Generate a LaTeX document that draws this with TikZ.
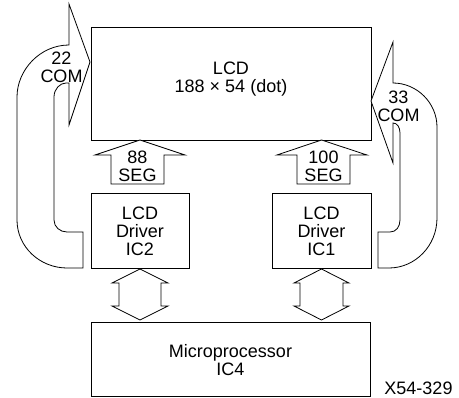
\documentclass[tikz,border=0pt]{standalone}
\usepackage{fontspec}
\setmainfont{Liberation Sans}
\begin{document}
\begin{tikzpicture}[x=1pt,y=-1pt,
  box/.style={draw,line width=0.8pt,inner sep=0pt},
  lbl/.style={align=center,font=\fontsize{18}{18}\selectfont,inner sep=0pt},
  fat/.style={draw,line width=0.8pt,line join=miter,fill=white}]
\useasboundingbox (0,0) rectangle (459,398);
% boxes
\node[box,minimum width=280pt,minimum height=113pt] (lcd) at (231,83.5) {};
\node[box,minimum width=98pt,minimum height=75pt] (ic2) at (140,230.5) {};
\node[box,minimum width=99pt,minimum height=75pt] (ic1) at (321.5,230.5) {};
\node[box,minimum width=279pt,minimum height=74pt] (mp) at (230.5,359) {};
% texts
\node[lbl] (lcdt) at (231,79) {LCD\\188 × 54 (dot)};
\node[lbl] (ic2t) at (140,231) {LCD\\Driver\\IC2};
\node[lbl] (ic1t) at (321.5,231) {LCD\\Driver\\IC1};
\node[lbl] (mpt) at (230.5,360) {Microprocessor\\IC4};
\node[lbl,anchor=base] (code) at (418.5,395) {X54-329};
% SEG arrows
\draw[fat] (140,140) -- (185,155) -- (164,155) -- (164,184) -- (111,184) -- (111,155) -- (95,155) -- cycle;
\draw[fat] (321.5,140) -- (367,155) -- (350,155) -- (350,184) -- (297,184) -- (297,155) -- (277,155) -- cycle;
\node[lbl] (seg88) at (137.5,166) {88\\SEG};
\node[lbl] (seg100) at (323.5,166) {100\\SEG};
% double arrows
\draw[fat] (140,269) -- (168,283) -- (161,283) -- (161,306) -- (168,306) -- (140,320) -- (112,306) -- (119,306) -- (119,283) -- (112,283) -- cycle;
\draw[fat] (321.5,269) -- (349,283) -- (343,283) -- (343,306) -- (349,306) -- (321.5,320) -- (294,306) -- (300,306) -- (300,283) -- (294,283) -- cycle;
% 22 COM arrow
\draw[fat] (90,62) -- (69,4) -- (69,45)
  .. controls (40,45) and (17,70) .. (17,97)
  -- (17,220)
  .. controls (17,247) and (40,268) .. (67,268)
  -- (83,268) -- (83,232) -- (67,232)
  .. controls (60,232) and (54,227) .. (54,220)
  -- (54,97)
  .. controls (54,89) and (60,83) .. (66,83)
  -- (69,83) -- (69,125) -- cycle;
\node[lbl] (com22) at (61.5,67) {22\\COM};
% 33 COM arrow
\draw[fat] (371,101) -- (393,42) -- (393,83)
  .. controls (417,83) and (437,103) .. (437,127)
  -- (437,218)
  .. controls (437,246) and (415,268) .. (389,268)
  -- (378,268) -- (378,232) -- (390,232)
  .. controls (396,232) and (400,227) .. (400,220)
  -- (400,133)
  .. controls (400,127) and (397,123) .. (393,123)
  -- (393,163) -- cycle;
\node[lbl] (com33) at (398.5,106) {33\\COM};
\end{tikzpicture}
\end{document}
